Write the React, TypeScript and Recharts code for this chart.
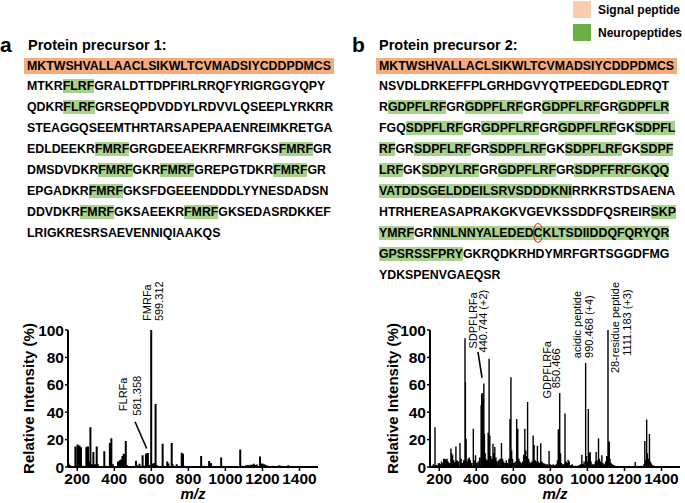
import { LineChart, Line, XAxis, YAxis, ReferenceDot, ReferenceLine } from "recharts";

const FONT = '"Liberation Sans", Arial, Helvetica, sans-serif';
const GREEN = "#A9D18E";
const ORANGE = "#F5AC7C";
const LEGEND_ORANGE = "#FBCBAD";
const LEGEND_GREEN = "#6CAE48";

// protein sequences, [..] = neuropeptide, {..} = circled residue
const signal1 = "MKTWSHVALLAACLSIKWLTCVMADSIYCDDPDMCS";
const body1 = [
  "MTKR[FLRF]GRALDTTDPFIRLRRQFYRIGRGGYQPY",
  "QDKR[FLRF]GRSEQPDVDDYLRDVVLQSEEPLYRKRR",
  "STEAGGQSEEMTHRTARSAPEPAAENREIMKRETGA",
  "EDLDEEKR[FMRF]GRGDEEAEKRFMRFGKS[FMRF]GR",
  "DMSDVDKR[FMRF]GKR[FMRF]GREPGTDKR[FMRF]GR",
  "EPGADKR[FMRF]GKSFDGEEENDDDLYYNESDADSN",
  "DDVDKR[FMRF]GKSAEEKR[FMRF]GKSEDASRDKKEF",
  "LRIGKRESRSAEVENNIQIAAKQS",
];

const signal2 = "MKTWSHVALLACLSIKWLTCVMADSIYCDDPDMCS";
const body2 = [
  "NSVDLDRKEFFPLGRHDGVYQTPEEDGDLEDRQT",
  "R[GDPFLRF]GR[GDPFLRF]GR[GDPFLRF]GR[GDPFLR]",
  "FGQ[SDPFLRF]GR[GDPFLRF]GR[GDPFLRF]GK[SDPFL]",
  "[RF]GR[SDPFLRF]GR[SDPFLRF]GK[SDPFLRF]GK[SDPF]",
  "[LRF]GK[SDPYLRF]GR[GDPFLRF]GR[SDPFFRFGKQQ]",
  "[VATDDSGELDDEILSRVSDDDKNI]RRKRSTDSAENA",
  "HTRHEREASAPRAKGKVGEVKSSDDFQSREIR[SKP]",
  "[YMRF]GR[NNLNNYALEDED{C}KLTSDIIDDQFQRYQR]",
  "[GPSRSSFPRY]GKRQDKRHDYMRFGRTSGGDFMG",
  "YDKSPENVGAEQSR",
];

const mzTicks = [200, 400, 600, 800, 1000, 1200, 1400];
const intensityTicks = [0, 20, 40, 60, 80, 100];

// [m/z, relative intensity %]
const peaksA: [number, number][] = [
  [153, 2.5], [158, 1.5], [165, 1], [190, 15], [202, 16.4], [208, 14], [212, 15.7], [220, 14.5],
  [230, 1], [249, 14.5], [254, 15], [258, 15], [264, 4], [271, 29], [277, 2], [287, 11],
  [295, 2], [305, 15], [311, 2], [346, 11.5], [351, 1], [376, 17.6], [384, 21], [392, 2],
  [420, 4], [430, 5], [437, 5.5], [444, 8], [451, 9.6], [462, 19], [468, 1.5], [517, 4.6],
  [522, 1.5], [536, 2.4], [553, 8.5], [560, 1], [571, 9.6], [577, 10], [581.4, 10.3], [590, 1.5],
  [599.3, 100], [604, 2], [610, 2.4], [616, 3], [623, 46], [629, 1.5], [661, 17], [666, 1],
  [686, 4], [692, 2.5], [710, 17.6], [715, 2], [737, 2], [764, 10.4], [771, 9.6], [777, 1],
  [869, 8], [875, 1], [912, 4.3], [919, 3], [923, 2.5], [977, 7], [982, 1], [1080, 12.8],
  [1086, 1], [1110, 1.2], [1122, 1.5], [1135, 1.7], [1145, 1.7], [1153, 2.4], [1160, 1.5],
  [1170, 1.8], [1187, 7.7], [1193, 2.5], [1200, 2.5], [1210, 2], [1218, 1.5], [1230, 1],
  [1255, 1], [1265, 0.8], [1290, 1.2], [1300, 1], [1340, 1.2], [1350, 0.8],
];

const peaksB: [number, number][] = [
  [160, 1], [168, 2], [177, 29], [185, 1.5], [195, 2.5], [200, 3], [207, 2], [212, 4], [218, 3],
  [224, 6], [230, 6], [236, 5.5], [242, 6], [248, 4], [255, 3], [263, 13.5], [267, 10],
  [272, 8.5], [278, 5], [284, 3.5], [290, 15], [296, 5], [303, 4], [312, 17.5], [318, 6],
  [325, 3], [332, 5], [339, 94], [341, 62], [345, 20.7], [350, 4], [356, 6], [362, 7],
  [368, 5], [375, 3], [384, 28], [390, 5], [396, 8.5], [402, 3], [410, 4], [418, 7],
  [426, 45], [429, 53], [432, 54], [436, 50], [440.7, 61], [444, 24], [448, 10], [452, 6],
  [458, 5], [464, 25], [469, 79], [473, 23], [478, 8], [484, 6], [490, 17], [496, 10],
  [500, 14.6], [506, 7], [512, 4], [520, 5], [528, 6], [536, 17.5], [542, 6], [548, 4],
  [556, 3], [562, 5], [568, 3], [576, 6], [582, 35], [587, 65.5], [591, 12], [596, 6],
  [603, 3], [610, 4], [618, 35], [624, 28], [630, 6], [636, 4], [642, 3], [650, 4],
  [656, 9], [662, 28], [667, 12], [672, 8], [677, 47.5], [682, 6], [688, 4], [694, 3],
  [700, 4], [707, 23], [712, 16], [718, 5], [724, 4], [730, 15.5], [736, 4], [742, 3],
  [748, 17.4], [754, 4], [760, 3], [768, 2.5], [776, 2], [784, 2], [793, 11.6], [800, 2],
  [808, 1.5], [816, 2], [824, 1.5], [832, 2], [838, 5], [843, 27.5], [847, 4], [850.5, 54],
  [855, 10], [860, 3], [866, 2], [872, 2], [879, 39], [885, 4], [891, 3], [896, 5.3],
  [902, 4], [910, 1.5], [918, 2], [925, 1], [935, 1], [945, 1], [955, 1.5], [963, 2],
  [970, 9], [975, 2], [982, 4], [990.5, 76], [995, 8], [1000, 4], [1005, 42.4], [1010, 10],
  [1015, 11], [1020, 4], [1028, 2], [1036, 2], [1043, 4], [1047, 11], [1052, 5], [1060, 21],
  [1065, 6], [1070, 4], [1078, 8.5], [1084, 3], [1090, 2], [1098, 4], [1104, 8], [1111.2, 100],
  [1115, 10], [1118, 18.6], [1122, 6], [1128, 3], [1135, 2], [1142, 1.5], [1150, 1],
  [1170, 0.8], [1200, 0.8], [1230, 0.8], [1258, 3.6], [1262, 1], [1290, 1], [1305, 2],
  [1310, 19], [1315, 5], [1320, 34.6], [1324, 10], [1330, 6], [1335, 24], [1340, 4],
  [1345, 2.5], [1352, 1.5], [1360, 1], [1380, 0.8], [1420, 0.5], [1460, 0.5],
];

// peak annotations (centre of rotated text, in m/z and % units)
const notesA = [
  { text: "FMRFa", mz: 575, y: 120 },
  { text: "599.312", mz: 642, y: 121 },
  { text: "FLRFa", mz: 447, y: 53 },
  { text: "581.358", mz: 521, y: 52 },
];
const leadersA: [number, number, number, number][] = [[512, 33, 575, 13.5]];

const notesB = [
  { text: "SDPFLRFa", mz: 382, y: 107 },
  { text: "440.744 (+2)", mz: 438, y: 106.5 },
  { text: "GDPFLRFa", mz: 781, y: 71 },
  { text: "850.466", mz: 831, y: 72 },
  { text: "acidic peptide", mz: 943, y: 104 },
  { text: "990.468 (+4)", mz: 1006, y: 102.5 },
  { text: "28-residue peptide", mz: 1150, y: 101.8 },
  { text: "1111.183 (+3)", mz: 1213, y: 105.4 },
];
const leadersB: [number, number, number, number][] = [[409, 84, 431, 65]];

const LINE_H = 20.9;
const FIRST_LINE = 66;

function parseSeq(s: string) {
  const out: { t: string; hl: boolean; circ: boolean }[] = [];
  let hl = false;
  let circ = false;
  let buf = "";
  const flush = () => {
    if (buf) out.push({ t: buf, hl, circ });
    buf = "";
  };
  for (const ch of s) {
    if (ch === "[") { flush(); hl = true; }
    else if (ch === "]") { flush(); hl = false; }
    else if (ch === "{") { flush(); circ = true; }
    else if (ch === "}") { flush(); circ = false; }
    else buf += ch;
  }
  flush();
  return out;
}

function SeqLine({ text, left, row }: { text: string; left: number; row: number }) {
  const parts = parseSeq(text);
  return (
    <div
      style={{
        position: "absolute",
        left,
        top: FIRST_LINE + row * LINE_H - LINE_H / 2,
        lineHeight: `${LINE_H}px`,
        whiteSpace: "pre",
      }}
    >
      {parts.map((p, i) => (
        <span key={i} style={{ background: p.hl ? GREEN : undefined }}>
          {p.circ ? (
            <span style={{ border: "1px solid #D7261E", borderRadius: "50%", padding: "2px 0", margin: "0 -1px" }}>
              {p.t}
            </span>
          ) : (
            p.t
          )}
        </span>
      ))}
    </div>
  );
}

function Sequence({ signal, body, left }: { signal: string; body: string[]; left: number }) {
  return (
    <div style={{ fontSize: 12.35, fontWeight: 700, color: "#000" }}>
      <div
        style={{
          position: "absolute",
          left,
          top: FIRST_LINE - LINE_H / 2,
          lineHeight: `${LINE_H}px`,
          whiteSpace: "pre",
        }}
      >
        <span style={{ background: ORANGE, padding: "1px 3px", marginLeft: -3 }}>{signal}</span>
      </div>
      {body.map((t, i) => (
        <SeqLine key={i} text={t} left={left} row={i + 1} />
      ))}
    </div>
  );
}

type SpectrumProps = {
  peaks: [number, number][];
  notes: { text: string; mz: number; y: number }[];
  leaders: [number, number, number, number][];
  width: number;
  axisWidth: number;
  titleX: number;
  stroke: number;
};

function Spectrum({ peaks, notes, leaders, width, axisWidth, titleX, stroke }: SpectrumProps) {
  const data = peaks.flatMap(([mz, i]) => [
    { mz, i: 0 },
    { mz, i },
    { mz, i: 0 },
  ]);
  const titleY = 80 + 137 / 2;
  return (
    <LineChart
      width={width}
      height={253}
      data={data}
      margin={{ top: 80, right: width - axisWidth - 250, bottom: 0, left: 0 }}
    >
      <XAxis
        type="number"
        dataKey="mz"
        domain={[150, 1500]}
        ticks={mzTicks}
        interval={0}
        height={36}
        tickSize={4}
        tickMargin={2}
        axisLine={{ stroke: "#000", strokeWidth: 2 }}
        tickLine={{ stroke: "#000", strokeWidth: 1.5 }}
        tick={{ fill: "#000", fontSize: 15.5, fontWeight: 700 }}
        label={{
          value: "m/z",
          position: "insideBottom",
          offset: 4,
          fill: "#000",
          fontSize: 15,
          fontWeight: 700,
          fontStyle: "italic",
        }}
      />
      <YAxis
        type="number"
        domain={[0, 100]}
        ticks={intensityTicks}
        interval={0}
        width={axisWidth}
        tickSize={3}
        tickMargin={1}
        axisLine={{ stroke: "#000", strokeWidth: 2 }}
        tickLine={{ stroke: "#000", strokeWidth: 1.5 }}
        tick={{ fill: "#000", fontSize: 15.5, fontWeight: 700 }}
        label={{
          content: () => (
            <text
              x={titleX}
              y={titleY}
              transform={`rotate(-90 ${titleX} ${titleY})`}
              textAnchor="middle"
              dominantBaseline="central"
              fontSize={15}
              fontWeight={700}
              fill="#000"
            >
              Relative Intensity (%)
            </text>
          ),
        }}
      />
      <Line
        type="linear"
        dataKey="i"
        stroke="#000"
        strokeWidth={stroke}
        strokeLinejoin="bevel"
        dot={false}
        activeDot={false}
        isAnimationActive={false}
      />
      {leaders.map(([x1, y1, x2, y2], k) => (
        <ReferenceLine
          key={`l${k}`}
          segment={[{ x: x1, y: y1 }, { x: x2, y: y2 }]}
          stroke="#000"
          strokeWidth={1.6}
          ifOverflow="visible"
        />
      ))}
      {notes.map((n, k) => (
        <ReferenceDot
          key={`n${k}`}
          x={n.mz}
          y={n.y}
          r={1}
          ifOverflow="visible"
          shape={(p: any) => (
            <text
              x={p.cx}
              y={p.cy}
              transform={`rotate(-90 ${p.cx} ${p.cy})`}
              textAnchor="middle"
              dominantBaseline="central"
              fontSize={11}
              fill="#000"
            >
              {n.text}
            </text>
          )}
        />
      ))}
    </LineChart>
  );
}

export default function App() {
  return (
    <div
      style={{
        position: "absolute",
        left: 0,
        top: 0,
        width: 685,
        height: 503,
        background: "#fff",
        fontFamily: FONT,
        color: "#000",
        overflow: "hidden",
      }}
    >
      {/* legend */}
      <div style={{ position: "absolute", left: 573, top: 1, width: 18, height: 17, background: LEGEND_ORANGE }} />
      <div style={{ position: "absolute", left: 573, top: 24, width: 18, height: 17, background: LEGEND_GREEN }} />
      <div style={{ position: "absolute", left: 598, top: 3, fontSize: 12, fontWeight: 700, lineHeight: "14px" }}>
        Signal peptide
      </div>
      <div style={{ position: "absolute", left: 598, top: 26, fontSize: 12, fontWeight: 700, lineHeight: "14px" }}>
        Neuropeptides
      </div>

      {/* panel a */}
      <div style={{ position: "absolute", left: 0, top: 32.7, fontSize: 21, fontWeight: 700, lineHeight: "24px" }}>a</div>
      <div style={{ position: "absolute", left: 28, top: 36.5, fontSize: 14.5, fontWeight: 700, lineHeight: "17px" }}>
        Protein precursor 1:
      </div>
      <Sequence signal={signal1} body={body1} left={27} />
      <div style={{ position: "absolute", left: 0, top: 250 }}>
        <Spectrum peaks={peaksA} notes={notesA} leaders={leadersA} width={345} axisWidth={68} titleX={28} stroke={2} />
      </div>

      {/* panel b */}
      <div style={{ position: "absolute", left: 352, top: 32.7, fontSize: 21, fontWeight: 700, lineHeight: "24px" }}>b</div>
      <div style={{ position: "absolute", left: 379, top: 36.5, fontSize: 14.5, fontWeight: 700, lineHeight: "17px" }}>
        Protein precursor 2:
      </div>
      <Sequence signal={signal2} body={body2} left={379} />
      <div style={{ position: "absolute", left: 345, top: 250 }}>
        <Spectrum peaks={peaksB} notes={notesB} leaders={leadersB} width={340} axisWidth={85} titleX={47} stroke={1.4} />
      </div>
    </div>
  );
}
